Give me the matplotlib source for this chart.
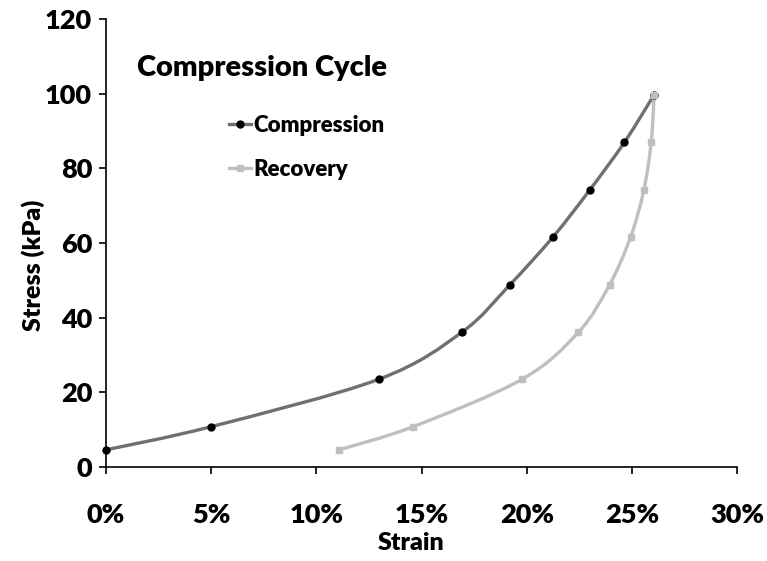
import numpy as np
import matplotlib
matplotlib.use("Agg")
import matplotlib.pyplot as plt
from matplotlib.path import Path
from matplotlib.patches import PathPatch
from matplotlib.lines import Line2D
from matplotlib.ticker import FuncFormatter

plt.rcParams['font.family'] = ['Lato', 'DejaVu Sans']
plt.rcParams['font.weight'] = 'bold'

# strain (fraction) and stress (kPa) for loading and unloading
comp_strain = [0.0, 0.050, 0.1297, 0.1692, 0.192, 0.2125, 0.230, 0.2465, 0.2606]
comp_stress = [4.6, 10.8, 23.5, 36.1, 48.8, 61.6, 74.2, 87.0, 99.7]
rec_strain = [0.1108, 0.146, 0.1978, 0.2246, 0.2394, 0.2494, 0.2557, 0.2592, 0.2606]
rec_stress = [4.6, 10.8, 23.5, 36.1, 48.8, 61.6, 74.2, 87.0, 99.7]

xticks = [0.0, 0.05, 0.10, 0.15, 0.20, 0.25, 0.30]
yticks = [0, 20, 40, 60, 80, 100, 120]


def smooth_path(xs, ys):
    # cubic Bezier through the points, spreadsheet-style smoothing
    pts = np.column_stack([xs, ys])
    verts = [pts[0]]
    codes = [Path.MOVETO]
    n = len(pts)
    for i in range(n - 1):
        p0 = pts[i - 1] if i > 0 else pts[i]
        p1 = pts[i]
        p2 = pts[i + 1]
        p3 = pts[i + 2] if i + 2 < n else pts[i + 1]
        c1 = p1 + (p2 - p0) / 6.0
        c2 = p2 - (p3 - p1) / 6.0
        verts += [c1, c2, p2]
        codes += [Path.CURVE4] * 3
    return Path(verts, codes)


fig = plt.figure(figsize=(7.67, 5.61), dpi=100)
ax = fig.add_axes([0.1382, 0.1676, 0.8227, 0.7985])

comp_color = '#707070'
rec_color = '#bfbfbf'

# loading curve first, unloading drawn over it
ax.add_patch(PathPatch(smooth_path(comp_strain, comp_stress), fill=False,
                       edgecolor=comp_color, lw=2.4, zorder=2))
ax.add_patch(PathPatch(smooth_path(rec_strain, rec_stress), fill=False,
                       edgecolor=rec_color, lw=2.4, zorder=3))
ax.plot(comp_strain, comp_stress, ls='none', marker='o', ms=5,
        color='black', zorder=4, clip_on=False)
ax.plot(rec_strain, rec_stress, ls='none', marker='s', ms=4.5,
        color=rec_color, zorder=5, clip_on=False)

ax.set_xlim(0, 0.30)
ax.set_ylim(0, 120)
ax.set_xticks(xticks)
ax.set_yticks(yticks)
ax.xaxis.set_major_formatter(FuncFormatter(lambda v, p: f"{v * 100:.0f}%"))
ax.tick_params(axis='both', direction='out', length=5, width=1.2,
               labelsize=19.5, colors='black')
ax.tick_params(axis='x', pad=21)
ax.tick_params(axis='y', pad=5)
for lbl in ax.get_xticklabels() + ax.get_yticklabels():
    lbl.set_fontweight('heavy')

for side in ['top', 'right']:
    ax.spines[side].set_visible(False)
for side in ['left', 'bottom']:
    ax.spines[side].set_linewidth(1.2)

ax.set_xlabel('Strain', fontsize=18, fontweight='heavy')
ax.set_ylabel('Stress (kPa)', fontsize=18, fontweight='heavy')
ax.xaxis.label.set_va('center')
ax.yaxis.label.set_va('center')
ax.xaxis.set_label_coords(0.483, -0.1696)
ax.yaxis.set_label_coords(-0.1157, 0.451)

fig.text(0.1786, 0.8788, 'Compression Cycle', fontsize=21,
         fontweight='heavy', va='center', ha='left')

handles = [
    Line2D([], [], color=comp_color, lw=2.4, marker='o', ms=5,
           markerfacecolor='black', markeredgecolor='black'),
    Line2D([], [], color=rec_color, lw=2.4, marker='s', ms=4.5,
           markerfacecolor=rec_color, markeredgecolor=rec_color),
]
ax.legend(handles, ['Compression', 'Recovery'], loc='upper left',
          bbox_to_anchor=(0.2725, 0.8306), bbox_transform=fig.transFigure,
          frameon=False, handlelength=1.0, handletextpad=0.1,
          labelspacing=1.03, prop={'weight': 'heavy', 'size': 16})

fig.savefig('out.png', dpi=100)
